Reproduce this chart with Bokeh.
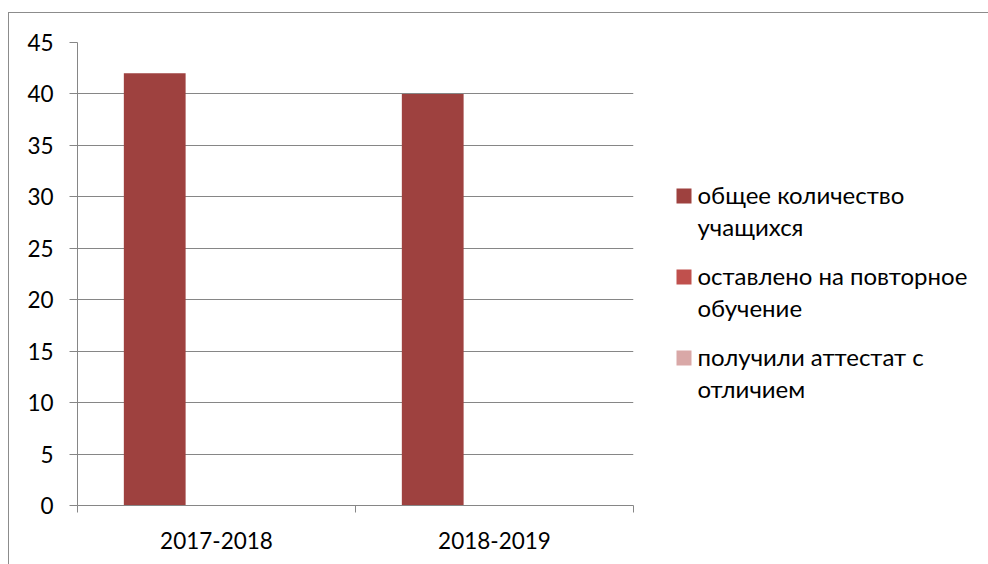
from bokeh.plotting import figure
from bokeh.layouts import row
from bokeh.models import ColumnDataSource, FixedTicker, Range1d
from bokeh.transform import dodge
from bokeh.core.properties import value
from bokeh.embed import file_html
from bokeh.resources import INLINE

categories = ["2017-2018", "2018-2019"]
series_names = ["общее количество учащихся",
                "оставлено на повторное обучение",
                "получили аттестат с отличием"]
series_lines = [["общее количество", "учащихся"],
                ["оставлено на повторное", "обучение"],
                ["получили аттестат с", "отличием"]]
total_students = [42, 40]
repeat_year = [0, 0]
honors = [0, 0]
colors = ["#9E413F", "#C0504D", "#D9A8A7"]
y_ticks = [0, 5, 10, 15, 20, 25, 30, 35, 40, 45]

FONT = "Lato"
FS = "22.5px"
GRAY = "#868686"
H = 551
TOP, BOTTOM = 29, 59
PW, LW = 627, 352

xpos = [i + 0.5 for i in range(len(categories))]
source = ColumnDataSource(dict(x=xpos, s0=total_students, s1=repeat_year, s2=honors))

p = figure(width=PW, height=H, output_backend="svg", toolbar_location=None,
           x_range=Range1d(0, len(categories)), y_range=Range1d(0, 45),
           min_border_left=68, min_border_right=3, min_border_top=TOP,
           min_border_bottom=BOTTOM)
p.outline_line_color = None
p.border_fill_color = None
p.background_fill_color = None

bw = 1 / 4.5
for i, col in enumerate(["s0", "s1", "s2"]):
    p.vbar(x=dodge("x", (i - 1) * bw, range=p.x_range), top=col, width=bw,
           source=source, fill_color=colors[i], line_color=None)

# axes
p.xaxis.ticker = FixedTicker(ticks=xpos, minor_ticks=list(range(len(categories) + 1)))
p.xaxis.major_label_overrides = {x: c for x, c in zip(xpos, categories)}
p.xaxis.major_tick_line_color = None
p.xaxis.minor_tick_line_color = GRAY
p.xaxis.minor_tick_out = 7
p.xaxis.minor_tick_in = 0
p.xaxis.axis_line_color = GRAY
p.xaxis.major_label_standoff = 19
p.xaxis.major_label_text_font = FONT
p.xaxis.major_label_text_font_size = FS
p.xaxis.major_label_text_color = "black"
p.xgrid.grid_line_color = None

p.yaxis.ticker = FixedTicker(ticks=y_ticks)
p.yaxis.minor_tick_line_color = None
p.yaxis.major_tick_line_color = GRAY
p.yaxis.major_tick_out = 8
p.yaxis.major_tick_in = 0
p.yaxis.axis_line_color = GRAY
p.yaxis.major_label_standoff = 16
p.yaxis.major_label_text_font = FONT
p.yaxis.major_label_text_font_size = FS
p.yaxis.major_label_text_color = "black"
p.ygrid.grid_line_color = GRAY
p.ygrid.grid_line_width = 1

# legend panel: a separate figure whose ranges are set so 1 unit = 1 px
lp = figure(width=LW, height=H, output_backend="svg", toolbar_location=None,
            x_range=Range1d(636, 636 + LW), y_range=Range1d(13 + H - BOTTOM, 13 + TOP),
            x_axis_type=None, y_axis_type=None,
            min_border_left=0, min_border_right=0, min_border_top=TOP,
            min_border_bottom=BOTTOM)
lp.grid.grid_line_color = None
lp.outline_line_color = None
lp.border_fill_color = None
lp.background_fill_color = None

ITEM = 81      # item pitch, px
LINE = 31.5    # line pitch, px
sq_x, sq_y = [], []
tx, ty, tt = [], [], []
for i, lines in enumerate(series_lines):
    sq_x.append(683.5)
    sq_y.append(195.5 + ITEM * i)
    for j, t in enumerate(lines):
        tx.append(697)
        ty.append(194 + ITEM * i + LINE * j)
        tt.append(t)
lp.rect(x=sq_x, y=sq_y, width=15, height=15, width_units="screen",
        height_units="screen", fill_color=colors, line_color=None)
lp.text(x=tx, y=ty, text=tt, text_font=value(FONT), text_font_size="24px",
        text_color="black", text_baseline="alphabetic", text_align="left")

layout = row(p, lp, margin=(12, 0, 0, 8),
             styles={"border-top": "1px solid #8c8c8c",
                     "border-left": "1px solid #8c8c8c"})

open("out.html", "w").write(file_html(layout, INLINE))
